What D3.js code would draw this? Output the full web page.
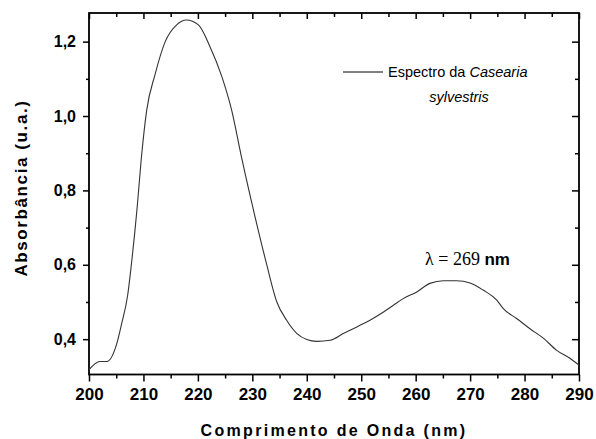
<!DOCTYPE html>
<html>
<head>
<meta charset="utf-8">
<script src="https://cdn.jsdelivr.net/npm/d3@7"></script>
<style>
  body { margin: 0; background: #fff; }
  svg text { font-family: "Liberation Sans", Arial, sans-serif; }
</style>
</head>
<body>
<div id="chart"></div>
<script>
var margin = { top: 13, right: 17, bottom: 64.5, left: 89 }
var width = 596 - margin.left - margin.right
var height = 439 - margin.top - margin.bottom

// wavelength (nm) / absorbance
var wavelength = [200, 202, 203.3, 205.1, 206, 207.1, 207.8, 208.8, 209.7, 210.6, 212.1, 214, 216.1, 217.9,
    220.1, 222.2, 224.4, 226.2, 228, 230.5, 232.6, 234.5, 236.3, 238.2, 240, 241.8, 244.3, 246.7, 249.2,
    251.6, 254.1, 255.9, 257.7, 260.2, 262.6, 265.1, 267.5, 270, 272.4, 274.9, 276.1, 278.6, 281, 283.5,
    285.9, 288.4, 290]
var absorbance = [0.318, 0.340, 0.340, 0.388, 0.442, 0.518, 0.603, 0.747, 0.900, 1.016, 1.110, 1.200, 1.245, 1.258,
    1.245, 1.187, 1.106, 1.016, 0.890, 0.729, 0.603, 0.500, 0.451, 0.415, 0.399, 0.394, 0.397, 0.415, 0.433,
    0.451, 0.473, 0.491, 0.509, 0.527, 0.550, 0.557, 0.557, 0.551, 0.532, 0.505, 0.482, 0.455, 0.428, 0.402,
    0.370, 0.348, 0.330]

var xTicks = [200, 210, 220, 230, 240, 250, 260, 270, 280, 290]
var xMinorTicks = [205, 215, 225, 235, 245, 255, 265, 275, 285]
var yTicks = [0.4, 0.6, 0.8, 1.0, 1.2]
var yMinorTicks = [0.5, 0.7, 0.9, 1.1]

var svg = d3.select("#chart")
    .append("svg")
    .attr("width", width + margin.left + margin.right)
    .attr("height", height + margin.top + margin.bottom)

var canvas = svg.append("g")
    .attr("transform", "translate(" + margin.left + "," + margin.top + ")")

var x = d3.scaleLinear().domain([200, 290]).range([0, width])
var y = d3.scaleLinear().domain([0.305, 1.277]).range([height, 0])

var comma = function(d) { return d3.format(".1f")(d).replace(".", ",") }

function addAxis(axis, transform) {
    var g = canvas.append("g").attr("transform", transform || null).call(axis)
    g.select(".domain").remove()
    g.selectAll(".tick line").attr("stroke", "#000").attr("stroke-width", 1.5)
    return g
}

// bottom
var bx = addAxis(d3.axisBottom(x).tickValues(xTicks).tickSize(7).tickPadding(6).tickFormat(d3.format("d")),
    "translate(0," + height + ")")
bx.selectAll("text").style("font-size", "17px").style("font-weight", "bold").attr("fill", "#000")
addAxis(d3.axisBottom(x).tickValues(xMinorTicks).tickSize(4).tickFormat(""), "translate(0," + height + ")")

// left
var ly = addAxis(d3.axisLeft(y).tickValues(yTicks).tickSize(6).tickPadding(7).tickFormat(comma))
ly.selectAll("text").style("font-size", "16px").style("font-weight", "bold").attr("fill", "#000")
addAxis(d3.axisLeft(y).tickValues(yMinorTicks).tickSize(3).tickFormat(""))

// top & right, ticks inward
addAxis(d3.axisTop(x).tickValues(xTicks).tickSize(-6).tickFormat(""))
addAxis(d3.axisTop(x).tickValues(xMinorTicks).tickSize(-4).tickFormat(""))
addAxis(d3.axisRight(y).tickValues(yTicks).tickSize(-7).tickFormat(""), "translate(" + width + ",0)")
addAxis(d3.axisRight(y).tickValues(yMinorTicks).tickSize(-4).tickFormat(""), "translate(" + width + ",0)")

canvas.append("rect")
    .attr("width", width)
    .attr("height", height)
    .attr("fill", "none")
    .attr("stroke", "#000")
    .attr("stroke-width", 1.8)

var line = d3.line()
    .x(function(d) { return x(d[0]) })
    .y(function(d) { return y(d[1]) })
    .curve(d3.curveMonotoneX)

canvas.append("path")
    .datum(d3.zip(wavelength, absorbance))
    .attr("fill", "none")
    .attr("stroke", "#333")
    .attr("stroke-width", 1.1)
    .attr("d", line)

// axis titles
svg.append("text")
    .attr("x", 334)
    .attr("y", 436)
    .attr("text-anchor", "middle")
    .style("font-size", "16px")
    .style("font-weight", "bold")
    .style("letter-spacing", "2.3px")
    .text("Comprimento de Onda (nm)")

svg.append("text")
    .attr("transform", "translate(27,188) rotate(-90)")
    .attr("text-anchor", "middle")
    .style("font-size", "17px")
    .style("font-weight", "bold")
    .style("letter-spacing", "1.6px")
    .text("Absorbância (u.a.)")

// legend
svg.append("line")
    .attr("x1", 343).attr("x2", 383)
    .attr("y1", 72).attr("y2", 72)
    .attr("stroke", "#000")
    .attr("stroke-width", 1)

var leg = svg.append("text")
    .attr("x", 388)
    .attr("y", 77)
    .style("font-size", "14.5px")
leg.append("tspan").text("Espectro da ")
leg.append("tspan").style("font-style", "italic").text("Casearia")

svg.append("text")
    .attr("x", 459)
    .attr("y", 102)
    .attr("text-anchor", "middle")
    .style("font-size", "14.5px")
    .style("font-style", "italic")
    .text("sylvestris")

// peak annotation
var ann = svg.append("text")
    .attr("x", 425)
    .attr("y", 265)
ann.append("tspan")
    .style("font-family", "'Liberation Serif', 'Times New Roman', serif")
    .style("font-size", "18px")
    .text("\u03bb = 269 ")
ann.append("tspan")
    .style("font-size", "17px")
    .style("font-weight", "bold")
    .text("nm")
</script>
</body>
</html>
